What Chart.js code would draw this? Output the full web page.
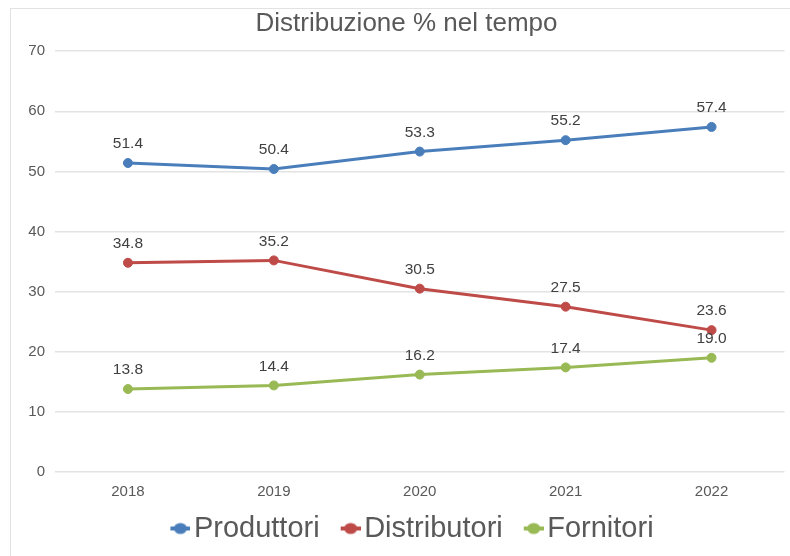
<!DOCTYPE html>
<html>
<head>
<meta charset="utf-8">
<script src="https://cdn.jsdelivr.net/npm/chart.js@4"></script>
<style>
    body { margin: 0; background: #fff; }
    #wrap { position: relative; width: 790px; height: 556px; overflow: hidden; }
    #frame { position: absolute; left: 10px; top: 8px; width: 800px; height: 560px; border: 1px solid #e2e2e2; }
    canvas { position: absolute; left: 0; top: 0; }
</style>
</head>
<body>
<div id="wrap">
    <div id="frame"></div>
    <canvas id="chart" width="790" height="556"></canvas>
</div>
<script>
// Chart data
const years = ['2018', '2019', '2020', '2021', '2022'];
const produttori = [51.4, 50.4, 53.3, 55.2, 57.4];
const distributori = [34.8, 35.2, 30.5, 27.5, 23.6];
const fornitori = [13.8, 14.4, 16.2, 17.4, 19.0];

const FONT = '"Liberation Sans", Arial, sans-serif';

// Legend marker: short line with a dot, drawn in the right part of a wider canvas
function legendMarker(color) {
    const c = document.createElement('canvas');
    c.width = 42;
    c.height = 14;
    const g = c.getContext('2d');
    g.strokeStyle = color;
    g.lineWidth = 4;
    g.beginPath();
    g.moveTo(22, 7);
    g.lineTo(42, 7);
    g.stroke();
    g.fillStyle = color;
    g.beginPath();
    g.ellipse(32, 7, 6.5, 5.5, 0, 0, Math.PI * 2);
    g.fill();
    return c;
}

// Draw the value above each point
const valueLabels = {
    id: 'valueLabels',
    afterDatasetsDraw(chart) {
        const ctx = chart.ctx;
        ctx.save();
        ctx.font = '15.5px ' + FONT;
        ctx.fillStyle = '#404040';
        ctx.textAlign = 'center';
        ctx.textBaseline = 'middle';
        chart.data.datasets.forEach((ds, i) => {
            chart.getDatasetMeta(i).data.forEach((pt, j) => {
                ctx.fillText(ds.data[j].toFixed(1), pt.x, pt.y - 19);
            });
        });
        ctx.restore();
    }
};

function series(label, data, color) {
    return {
        label: label,
        data: data,
        borderColor: color,
        backgroundColor: color,
        borderWidth: 3,
        pointRadius: 4.5,
        pointBorderWidth: 1,
        pointHoverRadius: 4.5,
        pointStyle: 'circle',
        tension: 0
    };
}

new Chart(document.getElementById('chart'), {
    type: 'line',
    data: {
        labels: years,
        datasets: [
            series('Produttori', produttori, '#4a7ebb'),
            series('Distributori', distributori, '#be4b48'),
            series('Fornitori', fornitori, '#98b954')
        ]
    },
    options: {
        responsive: false,
        animation: false,
        layout: { padding: { left: 27, right: 4, top: 0, bottom: 3 } },
        plugins: {
            title: {
                display: true,
                text: 'Distribuzione % nel tempo',
                color: '#595959',
                font: { size: 26, family: FONT, weight: 'normal' },
                padding: { top: 8, bottom: 12 }
            },
            legend: {
                position: 'bottom',
                labels: {
                    usePointStyle: true,
                    pointStyleWidth: 20,
                    boxHeight: 12,
                    padding: 10,
                    color: '#595959',
                    font: { size: 29, family: FONT },
                    generateLabels(chart) {
                        return Chart.defaults.plugins.legend.labels.generateLabels(chart).map(item => {
                            item.pointStyle = legendMarker(chart.data.datasets[item.datasetIndex].borderColor);
                            return item;
                        });
                    }
                }
            },
            tooltip: { enabled: false }
        },
        scales: {
            x: {
                offset: true,
                afterFit(scale) { scale.height = 32; },
                grid: { display: false },
                border: { display: false },
                ticks: {
                    color: '#595959',
                    padding: 3,
                    font: { size: 15, family: FONT }
                }
            },
            y: {
                min: 0,
                max: 70,
                afterFit(scale) { scale.width = 28; },
                grid: { color: '#e3e3e3', lineWidth: 1.5, drawTicks: false },
                border: { display: false },
                ticks: {
                    stepSize: 10,
                    color: '#595959',
                    padding: 10,
                    font: { size: 15, family: FONT }
                }
            }
        }
    },
    plugins: [valueLabels]
});
</script>
</body>
</html>
